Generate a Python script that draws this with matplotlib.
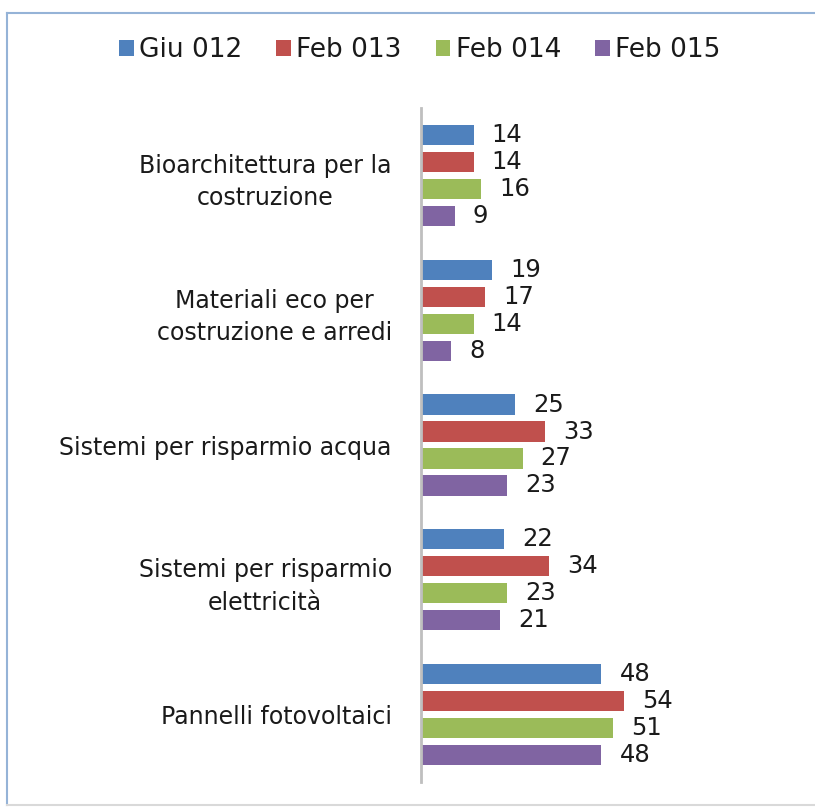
import matplotlib.pyplot as plt
import matplotlib.lines as mlines
import numpy as np

# data
categories = [
    "Bioarchitettura per la\ncostruzione",
    "Materiali eco per\ncostruzione e arredi",
    "Sistemi per risparmio acqua",
    "Sistemi per risparmio\nelettricità",
    "Pannelli fotovoltaici",
]
series_names = ["Giu 012", "Feb 013", "Feb 014", "Feb 015"]
giu_012 = [14, 19, 25, 22, 48]
feb_013 = [14, 17, 33, 34, 54]
feb_014 = [16, 14, 27, 23, 51]
feb_015 = [9, 8, 23, 21, 48]
colors = ["#4F81BD", "#C0504D", "#9BBB59", "#8064A2"]

fig = plt.figure(figsize=(8.15, 8.08), dpi=100)
ax = fig.add_axes([421 / 815, 26 / 808, 394 / 815, 674 / 808])

n = len(categories)
y = np.arange(n)[::-1]  # first category at top
step = 0.2
bar_h = 0.15

all_series = [giu_012, feb_013, feb_014, feb_015]
for i, (vals, name, c) in enumerate(zip(all_series, series_names, colors)):
    pos = y + (1.5 - i) * step
    bars = ax.barh(pos, vals, height=bar_h, color=c, label=name, zorder=2)
    for b, v in zip(bars, vals):
        ax.annotate(str(v), (b.get_width(), b.get_y() + b.get_height() / 2),
                    xytext=(13, 0), textcoords="offset points",
                    va="center", ha="left", fontsize=17.5, color="#1a1a1a")

ax.set_ylim(-0.5, n - 0.5)
ax.set_xlim(0, 394 / 3.76)
ax.set_yticks(y)
ax.set_yticklabels(categories, fontsize=17, multialignment="center",
                   linespacing=1.45, color="#1a1a1a")
ax.tick_params(axis="y", length=0, pad=21)
ax.set_xticks([])
for s in ["top", "right", "bottom"]:
    ax.spines[s].set_visible(False)
ax.spines["left"].set_color("#BFBFBF")
ax.spines["left"].set_linewidth(2)

fig.legend(loc="center", bbox_to_anchor=(0.515, 1 - 50 / 808), ncol=4,
           frameon=False, fontsize=19, handlelength=0.55, handleheight=0.55,
           handletextpad=0.2, columnspacing=1.3, labelcolor="#1a1a1a")

# chart border: blue top/left, grey bottom
fig.add_artist(mlines.Line2D([7 / 815, 1], [1 - 13 / 808] * 2, color="#95B3D7", lw=1.5))
fig.add_artist(mlines.Line2D([7 / 815] * 2, [3 / 808, 1 - 13 / 808], color="#95B3D7", lw=1.5))
fig.add_artist(mlines.Line2D([7 / 815, 1], [3 / 808] * 2, color="#D9D9D9", lw=1.5))

fig.savefig("out.png", dpi=100)
